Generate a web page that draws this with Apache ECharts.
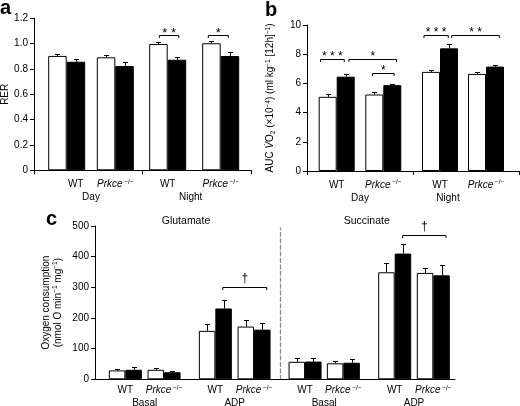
<!DOCTYPE html>
<html>
<head>
<meta charset="utf-8">
<script src="https://cdn.jsdelivr.net/npm/echarts/dist/echarts.min.js"></script>
<style>html,body{margin:0;padding:0;background:#fff}#chart{width:520px;height:406px}</style>
</head>
<body>
<div id="chart"></div>
<script>
// ================= DATA =================
const genotypeLabels = ['WT', 'Prkce'];

// Panel a: RER. Order: Day WT, Day Prkce, Night WT, Night Prkce
const rerGroups = ['Day', 'Night'];
const rerTicks = [0, 0.2, 0.4, 0.6, 0.8, 1.0, 1.2];
const rerOpen = [0.903, 0.892, 0.997, 1.003];
const rerOpenErr = [0.012, 0.022, 0.016, 0.016];
const rerFilled = [0.857, 0.823, 0.873, 0.902];
const rerFilledErr = [0.021, 0.030, 0.018, 0.035];
// significance: [group, fromCat, fromSide, toCat, toSide, level]
const rerSig = [[1, 0, -0.45, 0, 0.6, 1.07], [1, 1, -0.67, 1, 0.41, 1.07]];
const rerSigMarks = ['* *', '*'];

// Panel b: AUC VO2
const vo2Groups = ['Day', 'Night'];
const vo2Ticks = [0, 2, 4, 6, 8, 10];
const vo2Open = [5.08, 5.24, 6.79, 6.65];
const vo2OpenErr = [0.20, 0.19, 0.12, 0.16];
const vo2Filled = [6.46, 5.88, 8.40, 7.15];
const vo2FilledErr = [0.21, 0.08, 0.27, 0.12];
const vo2Sig = [[0, 0, -0.9, 0, 0.42, 7.68], [0, 0, 0.68, 1, 0.74, 7.68], [0, 1, -0.6, 1, 0.6, 6.7],
                [1, 0, -0.89, 0, 0.46, 9.32], [1, 0, 0.65, 1, 0.74, 9.32]];
const vo2SigMarks = ['* * *', '*', '*', '* * *', '* *'];

// Panel c: oxygen consumption. Order: Basal WT, Basal Prkce, ADP WT, ADP Prkce
const condGroups = ['Basal', 'ADP'];
const substrates = ['Glutamate', 'Succinate'];
const oxTicks = [0, 100, 200, 300, 400, 500];
const glutOpen = [29, 31, 158, 172];
const glutOpenErr = [6, 5, 22, 22];
const glutFilled = [31, 23, 231, 162];
const glutFilledErr = [8, 4, 28, 23];
const succOpen = [57, 52, 349, 347];
const succOpenErr = [11, 8, 31, 17];
const succFilled = [58, 54, 410, 339];
const succFilledErr = [12, 13, 31, 33];
const glutSig = [[1, 0, 0.45, 1, 0.77, 302]];
const succSig = [[1, 0, 0.48, 1, 0.77, 471]];
const daggerMarks = ['\u2020'];

// ================= BUILD =================
const FONT = "'Liberation Sans', Arial, Helvetica, sans-serif";
const grids = [], xAxis = [], yAxis = [], series = [];
const T = { fontFamily: FONT, fontSize: 10, color: '#000' };

const nameRich = {
  t: Object.assign({ lineHeight: 12 }, T),
  v: Object.assign({ lineHeight: 12, fontStyle: 'italic' }, T),
  sup: { fontFamily: FONT, fontSize: 6.5, color: '#000', lineHeight: 7, verticalAlign: 'top' },
  sub: { fontFamily: FONT, fontSize: 6.5, color: '#000', lineHeight: 7, verticalAlign: 'bottom' }
};

function rng(ticks) { return { min: ticks[0], max: ticks[ticks.length - 1], interval: ticks[1] - ticks[0] }; }

function pushGrid(l, t, w, h) {
  const gi = grids.length;
  grids.push({ left: l, top: t, width: w, height: h, containLabel: false, outerBoundsMode: 'none' });
  return gi;
}

function addFrame(f) {
  const gi = pushGrid(f.rect[0], f.rect[1], f.rect[2], f.rect[3]);
  xAxis.push({ gridIndex: gi, type: 'category', data: f.slots,
    axisLine: { show: true, lineStyle: { color: '#000', width: 1 } },
    axisTick: { show: f.xTicks, length: 4, lineStyle: { color: '#000', width: 1 } },
    axisLabel: { show: false }, splitLine: { show: false } });
  const r = rng(f.ticks);
  yAxis.push({ gridIndex: gi, type: 'value', min: r.min, max: r.max, interval: r.interval,
    axisLine: { show: true, lineStyle: { color: '#000', width: 1 } },
    axisTick: { show: true, length: 4, lineStyle: { color: '#000', width: 1 } },
    axisLabel: Object.assign({ margin: 6, formatter: f.fmt }, T),
    splitLine: { show: false },
    name: f.name, nameLocation: 'middle', nameGap: f.nameGap, nameRotate: 90, nameMoveOverlap: false,
    nameTextStyle: Object.assign({ lineHeight: 12, rich: nameRich, align: 'center' }, T) });
}

function labelRich(wtPad) {
  return {
    w: Object.assign({ lineHeight: 12, padding: [0, 0, 0, wtPad || 0] }, T),
    i: Object.assign({ lineHeight: 12, fontStyle: 'italic' }, T),
    s: { fontFamily: FONT, fontSize: 6.5, color: '#000', lineHeight: 7, verticalAlign: 'top', padding: [0, 0, 0, 1.5] }
  };
}

function errSeries(xi, yi, vals, errs, offset) {
  return { type: 'custom', xAxisIndex: xi, yAxisIndex: yi, z: 5, silent: true,
    data: vals.map((v, i) => [i, v, errs[i]]),
    renderItem: (params, api) => {
      const c = api.value(0), v = api.value(1), e = api.value(2);
      const base = api.coord([c, v]), top = api.coord([c, v + e]);
      const x = Math.round(base[0] + offset) + 0.5;
      const yt = Math.round(top[1]) + 0.5;
      return { type: 'group', children: [
        { type: 'line', shape: { x1: x, y1: base[1], x2: x, y2: yt }, style: { stroke: '#000', lineWidth: 1 } },
        { type: 'line', shape: { x1: x - 2.5, y1: yt, x2: x + 2.5, y2: yt }, style: { stroke: '#000', lineWidth: 1 } }
      ] };
    } };
}

function sigSeries(xi, yi, rows, marks, barW, fontSize) {
  return { type: 'custom', xAxisIndex: xi, yAxisIndex: yi, z: 6, silent: true,
    data: rows.map(r => [r[1], r[5], r[2], r[3], r[4]]),
    renderItem: (params, api) => {
      const p0 = api.coord([api.value(0), api.value(1)]);
      const p1 = api.coord([api.value(3), api.value(1)]);
      const x0 = p0[0] + api.value(2) * barW, x1 = p1[0] + api.value(4) * barW;
      const y = Math.round(p0[1]) + 0.5;
      const mark = marks[params.dataIndex];
      const dy = mark === '\u2020' ? 8.5 : 2.5;
      return { type: 'group', children: [
        { type: 'polyline', shape: { points: [[x0, y + 2.5], [x0, y], [x1, y], [x1, y + 2.5]] },
          style: { stroke: '#000', lineWidth: 1, fill: 'none' } },
        { type: 'text', x: (x0 + x1) / 2, y: y - dy,
          style: { text: mark, fontFamily: FONT, fontSize: fontSize, fill: '#000', align: 'center', verticalAlign: 'middle' } }
      ] };
    } };
}

function addGroup(g, ticks, groupName, labelMargin, nameGap, open, openErr, filled, filledErr, sigRows, sigMarks, sigIdx, sigFont) {
  const gi = pushGrid(g.left, g.top, g.width, g.height);
  const xi = xAxis.length, yi = yAxis.length;
  xAxis.push({ gridIndex: gi, type: 'category', data: genotypeLabels,
    axisLine: { show: false }, axisTick: { show: false }, splitLine: { show: false },
    axisLabel: { interval: 0, margin: labelMargin,
      formatter: v => v === 'WT' ? '{w|WT}' : '{i|Prkce}{s|\u2212/\u2212}', rich: labelRich(g.wtPad) },
    name: groupName, nameLocation: 'middle', nameGap: nameGap, nameMoveOverlap: false,
    nameTextStyle: Object.assign({ lineHeight: 12, padding: g.namePad || 0 }, T) });
  const r = rng(ticks);
  yAxis.push({ gridIndex: gi, type: 'value', min: r.min, max: r.max, interval: r.interval, show: false });
  const k = g.k;
  const o = open.slice(2 * k, 2 * k + 2), oe = openErr.slice(2 * k, 2 * k + 2);
  const f = filled.slice(2 * k, 2 * k + 2), fe = filledErr.slice(2 * k, 2 * k + 2);
  series.push({ type: 'bar', xAxisIndex: xi, yAxisIndex: yi, data: o, barWidth: g.barW, barGap: '0%', silent: true, z: 2,
    itemStyle: { color: '#fff', borderColor: '#000', borderWidth: 1 } });
  series.push({ type: 'bar', xAxisIndex: xi, yAxisIndex: yi, data: f, barWidth: g.barW, barGap: '0%', silent: true, z: 2,
    itemStyle: { color: '#000', borderColor: '#000', borderWidth: 1 } });
  series.push(errSeries(xi, yi, o, oe, -g.barW / 2));
  series.push(errSeries(xi, yi, f, fe, g.barW / 2));
  const rows = [], marks = [];
  sigRows.forEach((row, i) => { if (row[0] === sigIdx) { rows.push(row); marks.push(sigMarks[i]); } });
  if (rows.length) series.push(sigSeries(xi, yi, rows, marks, g.barW, sigFont));
}

// ---- layout (pixels) ----
const frameA = [34, 18.3, 217, 152];
const frameB = [307, 25, 212, 146];
const frameC = [95, 226, 360, 153.3];

// Panel a
addFrame({ rect: frameA, slots: ['', ''], xTicks: true, ticks: rerTicks,
  fmt: v => v === 0 ? '0' : v.toFixed(1), name: 'RER', nameGap: 22.5 });
addGroup({ k: 0, left: 42.4, width: 97.2, top: frameA[1], height: frameA[3], barW: 18.5, wtPad: 18 },
  rerTicks, rerGroups[0], 8, 21, rerOpen, rerOpenErr, rerFilled, rerFilledErr, rerSig, rerSigMarks, 0, 13);
addGroup({ k: 1, left: 141.2, width: 106, top: frameA[1], height: frameA[3], barW: 18.5, namePad: [0, 7, 0, 0] },
  rerTicks, rerGroups[1], 8, 21, rerOpen, rerOpenErr, rerFilled, rerFilledErr, rerSig, rerSigMarks, 1, 13);

// Panel b
addFrame({ rect: frameB, slots: ['', ''], xTicks: true, ticks: vo2Ticks, fmt: v => String(v),
  name: '{t|AUC }{v|V\u0307}{t|O}{sub|2}{t| (\u00d710}{sup|\u22124}{t|) (ml kg}{sup|\u22121}{t| [12h]}{sup|\u22121}{t|)}',
  nameGap: 30.5 });
addGroup({ k: 0, left: 313.4, width: 93.2, top: frameB[1], height: frameB[3], barW: 18 },
  vo2Ticks, vo2Groups[0], 8, 21, vo2Open, vo2OpenErr, vo2Filled, vo2FilledErr, vo2Sig, vo2SigMarks, 0, 12);
addGroup({ k: 1, left: 417, width: 92, top: frameB[1], height: frameB[3], barW: 18, namePad: [0, 30, 0, 0] },
  vo2Ticks, vo2Groups[1], 8, 21, vo2Open, vo2OpenErr, vo2Filled, vo2FilledErr, vo2Sig, vo2SigMarks, 1, 12);

// Panel c
addFrame({ rect: frameC, slots: [''], xTicks: false, ticks: oxTicks, fmt: v => String(v),
  name: '{t|Oxygen consumption}\n{t|(nmol O min}{sup|\u22121}{t| mg}{sup|\u22121}{t|)}', nameGap: 31 });
const cGroups = [
  { k: 0, left: 106, width: 77.4, sub: 0 }, { k: 1, left: 196, width: 77.4, sub: 0 },
  { k: 0, left: 285.9, width: 76.6, sub: 1 }, { k: 1, left: 375.4, width: 77.2, sub: 1 }
];
cGroups.forEach(g => {
  g.top = frameC[1]; g.height = frameC[3]; g.barW = 16.5;
  const isG = g.sub === 0;
  addGroup(g, oxTicks, condGroups[g.k], 5, 17.5,
    isG ? glutOpen : succOpen, isG ? glutOpenErr : succOpenErr,
    isG ? glutFilled : succFilled, isG ? glutFilledErr : succFilledErr,
    isG ? glutSig : succSig, daggerMarks.concat(daggerMarks), g.k, 12);
});

// dashed divider between substrates
(function () {
  const gi = pushGrid(280.7, 228, 10, 151.3);
  xAxis.push({ gridIndex: gi, type: 'value', show: false, min: 0, max: 1 });
  yAxis.push({ gridIndex: gi, type: 'value', min: 0, max: 1, axisLine: { show: true, lineStyle: { color: '#8c8c8c', width: 1.3, type: [4, 2.5] } },
    axisTick: { show: false }, axisLabel: { show: false }, splitLine: { show: false } });
})();

const titleStyle = { fontFamily: FONT, fontSize: 20, fontWeight: 'bold', color: '#000' };
const subTitleStyle = { fontFamily: FONT, fontSize: 10.5, fontWeight: 'normal', color: '#000' };

const option = {
  animation: false,
  backgroundColor: '#fff',
  textStyle: { fontFamily: FONT },
  title: [
    { text: 'a', left: 0, top: -2, padding: 0, textStyle: titleStyle },
    { text: 'b', left: 265, top: 0, padding: 0, textStyle: titleStyle },
    { text: 'c', left: 46, top: 209, padding: 0, textStyle: titleStyle },
    { text: substrates[0], left: 186, top: 215.5, textAlign: 'center', padding: 0, textStyle: subTitleStyle },
    { text: substrates[1], left: 366.7, top: 215.5, textAlign: 'center', padding: 0, textStyle: subTitleStyle }
  ],
  grid: grids, xAxis: xAxis, yAxis: yAxis, series: series
};

const chart = echarts.init(document.getElementById('chart'), null, { renderer: 'canvas' });
chart.setOption(option);
</script>
</body>
</html>
